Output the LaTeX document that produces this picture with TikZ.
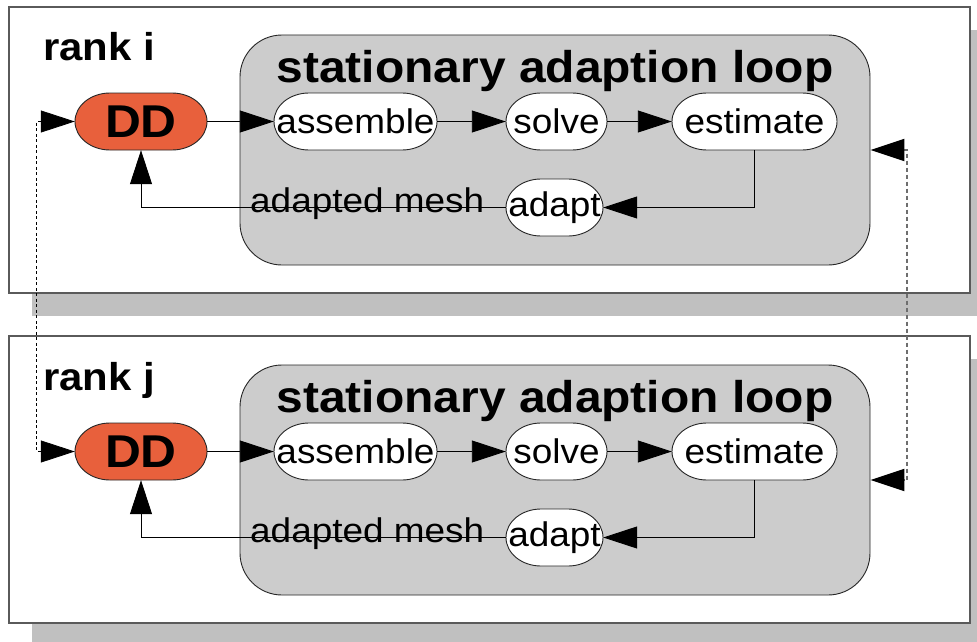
\documentclass[tikz,border=0pt]{standalone}
\usepackage{fontspec}
\setmainfont[FakeStretch=1.08]{Liberation Sans}
\usetikzlibrary{arrows.meta}
\definecolor{ddred}{HTML}{E8603C}
\definecolor{loopgray}{HTML}{CCCCCC}
\definecolor{shadowgray}{HTML}{C0C0C0}
\definecolor{framegray}{HTML}{5A5A5A}
\definecolor{linkgray}{HTML}{6E6E6E}
\tikzset{
  bigtip/.tip={Triangle[length=34pt,width=22pt,color=black]},
  frame/.style={draw=framegray,line width=1.3pt,fill=white,inner sep=0pt},
  loopbox/.style={draw=black!85,line width=0.9pt,fill=loopgray,rounded corners=42pt,
    minimum width=630pt,minimum height=230pt,inner sep=0pt},
  capsule/.style={draw=black!85,line width=0.9pt},
  stage/.style={minimum height=57pt,inner sep=0pt,font=\fontsize{34.2}{36}\selectfont},
  ddnode/.style={stage,font=\fontsize{46}{50}\selectfont\bfseries},
  conn/.style={draw=black,line width=0.9pt,-bigtip},
  title/.style={anchor=base,inner sep=0pt,font=\fontsize{44.4}{48}\selectfont\bfseries},
  ranklabel/.style={anchor=base west,inner sep=0pt,font=\fontsize{38.8}{42}\selectfont\bfseries},
  edgelabel/.style={anchor=base west,inner sep=0pt,font=\fontsize{34.2}{36}\selectfont},
  msgleft/.style={draw=black,line width=0.8pt,dash pattern=on 3pt off 2.5pt,bigtip-bigtip},
  msgright/.style={draw=linkgray,line width=2pt,dash pattern=on 4pt off 3pt,bigtip-bigtip},
}
% outline of a process stage: straight top and bottom, elliptical ends
% #1,#2 centre, #3 half width, #4 fill colour
\newcommand\stagecapsule[4]{%
  \path[capsule,fill=#4] (#1-#3+35,#2-28.5) -- (#1+#3-35,#2-28.5)
    arc[start angle=90,end angle=-90,x radius=35pt,y radius=28.5pt]
    -- (#1-#3+35,#2+28.5)
    arc[start angle=270,end angle=90,x radius=35pt,y radius=28.5pt] -- cycle;}
\begin{document}
\begin{tikzpicture}[x=1pt,y=-1pt]
  \useasboundingbox (0,0) rectangle (977,642);
  \fill[white] (0,0) rectangle (977,642);

  % drop shadows of the two rank frames
  \fill[shadowgray] (32,30) rectangle (977,316);
  \fill[shadowgray] (32,359) rectangle (977,642);

  % rank frames
  \node[frame,minimum width=961pt,minimum height=286pt] (framei) at (489.5,150) {};
  \node[frame,minimum width=961pt,minimum height=287pt] (framej) at (489.5,479.5) {};

  % ---------- rank i ----------
  \node[ranklabel] (ranki) at (43,60) {rank i};
  \node[loopbox] (loopi) at (555,150) {};
  \node[title] (titlei) at (555,82) {stationary adaption loop};

  \stagecapsule{141}{121.5}{66}{ddred}
  \node[ddnode,minimum width=132pt] (ddi) at (141,121.5) {DD};
  \stagecapsule{355.5}{121.5}{81.5}{white}
  \node[stage,minimum width=163pt] (asmi) at (355.5,121.5) {assemble};
  \stagecapsule{556.5}{121.5}{50.5}{white}
  \node[stage,minimum width=101pt] (solvei) at (556.5,121.5) {solve};
  \stagecapsule{754.5}{121.5}{82.5}{white}
  \node[stage,minimum width=165pt] (esti) at (754.5,121.5) {estimate};
  \stagecapsule{554.5}{207.5}{48.5}{white}
  \node[stage,minimum width=97pt] (adapti) at (554.5,207.5) {adapt};
  \node[edgelabel] (meshi) at (250,212) {adapted mesh};

  \draw[conn] (ddi) -- (asmi);
  \draw[conn] (asmi) -- (solvei);
  \draw[conn] (solvei) -- (esti);
  \draw[conn] (esti.south) |- (adapti.east);
  \draw[conn] (adapti.west) -| (ddi.south);

  % ---------- rank j ----------
  \node[ranklabel] (rankj) at (43,390) {rank j};
  \node[loopbox] (loopj) at (555,480) {};
  \node[title] (titlej) at (555,412) {stationary adaption loop};

  \stagecapsule{141}{451.5}{66}{ddred}
  \node[ddnode,minimum width=132pt] (ddj) at (141,451.5) {DD};
  \stagecapsule{355.5}{451.5}{81.5}{white}
  \node[stage,minimum width=163pt] (asmj) at (355.5,451.5) {assemble};
  \stagecapsule{556.5}{451.5}{50.5}{white}
  \node[stage,minimum width=101pt] (solvej) at (556.5,451.5) {solve};
  \stagecapsule{754.5}{451.5}{82.5}{white}
  \node[stage,minimum width=165pt] (estj) at (754.5,451.5) {estimate};
  \stagecapsule{554.5}{537.5}{48.5}{white}
  \node[stage,minimum width=97pt] (adaptj) at (554.5,537.5) {adapt};
  \node[edgelabel] (meshj) at (250,542) {adapted mesh};

  \draw[conn] (ddj) -- (asmj);
  \draw[conn] (asmj) -- (solvej);
  \draw[conn] (solvej) -- (estj);
  \draw[conn] (estj.south) |- (adaptj.east);
  \draw[conn] (adaptj.west) -| (ddj.south);

  % ---------- exchange between the ranks ----------
  \draw[msgleft] (ddi.west) -- ++(-38,0) |- (ddj.west);
  \draw[msgright] (loopi.east) -- ++(37,0) |- (loopj.east);
\end{tikzpicture}
\end{document}
